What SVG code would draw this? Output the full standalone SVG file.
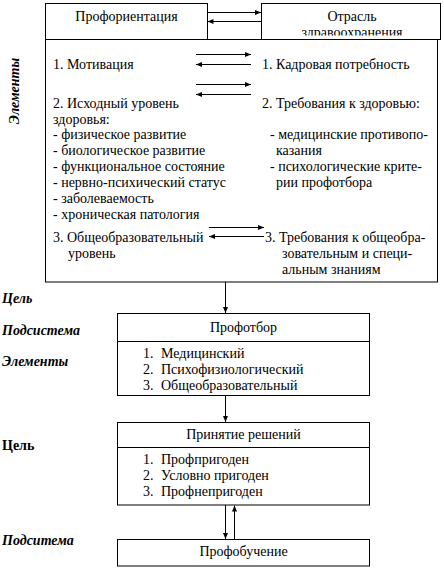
<svg xmlns="http://www.w3.org/2000/svg" width="444" height="571" viewBox="0 0 444 571">
<style>
  text { font-family: "Liberation Serif", "Times New Roman", serif; font-size: 14px; fill: #000; }
  .c { text-anchor: middle; }
  .lbl { font-weight: bold; font-style: italic; }
  .lblb { font-weight: bold; }
  .box { fill: #fff; stroke: #000; stroke-width: 1; }
  .ln { stroke: #000; stroke-width: 1; fill: none; }
  .ar { stroke: #000; stroke-width: 1; fill: none; marker-end: url(#ah); }
</style>
<defs>
  <marker id="ah" markerUnits="userSpaceOnUse" markerWidth="7" markerHeight="6" refX="6" refY="3" orient="auto">
    <path d="M0,0.5 L6,3 L0,5.5 z" fill="#000"/>
  </marker>
  <clipPath id="clipTop">
    <rect x="261" y="3" width="180" height="32.5"/>
  </clipPath>
</defs>
<rect width="444" height="571" fill="#fff"/>

<g id="labels">
  <text class="lbl" transform="translate(18.5,91) rotate(-90)" text-anchor="middle">Элементы</text>
  <text class="lbl" x="2" y="303">Цель</text>
  <text class="lbl" x="2" y="335">Подсистема</text>
  <text class="lbl" x="2" y="366">Элементы</text>
  <text class="lblb" x="2" y="450">Цель</text>
  <text class="lbl" x="2" y="545">Подситема</text>
</g>

<g id="node-system">
  <rect class="box" x="45.5" y="39.5" width="392" height="242.5"/>
  <text x="53" y="69">1. Мотивация</text>
  <text x="53" y="108">2. Исходный уровень</text>
  <text x="53" y="123.5">здоровья:</text>
  <text x="53" y="138.5">- физическое развитие</text>
  <text x="53" y="155">- биологическое развитие</text>
  <text x="53" y="171">- функциональное состояние</text>
  <text x="53" y="187">- нервно-психический статус</text>
  <text x="53" y="203">- заболеваемость</text>
  <text x="53" y="219">- хроническая патология</text>
  <text x="53" y="241.5">3. Общеобразовательный</text>
  <text x="68" y="257.5">уровень</text>
  <text x="262" y="69">1. Кадровая потребность</text>
  <text x="262" y="108">2. Требования к здоровью:</text>
  <text x="270" y="138.5">- медицинские противопо-</text>
  <text x="276" y="155">казания</text>
  <text x="270" y="171">- психологические крите-</text>
  <text x="276" y="187">рии профотбора</text>
  <text x="265" y="241.5">3. Требования к общеобра-</text>
  <text x="282" y="257.5">зовательным и специ-</text>
  <text x="282" y="274">альным знаниям</text>
</g>

<g id="node-proforientation">
  <rect class="box" x="45.5" y="3.5" width="162" height="36"/>
  <text class="c" x="126.5" y="21">Профориентация</text>
</g>

<g id="node-health">
  <rect class="box" x="261.5" y="3.5" width="179" height="36"/>
  <text class="c" x="352" y="21">Отрасль</text>
  <text class="c" x="352" y="37" clip-path="url(#clipTop)">здравоохранения</text>
</g>

<g id="node-proftbor">
  <rect class="box" x="117.5" y="313.5" width="252" height="82"/>
  <line class="ln" x1="117.5" y1="341.5" x2="369.5" y2="341.5"/>
  <text class="c" x="243.5" y="332">Профотбор</text>
  <text x="143" y="357.5">1.</text><text x="161" y="357.5">Медицинский</text>
  <text x="143" y="373.5">2.</text><text x="161" y="373.5">Психофизиологический</text>
  <text x="143" y="389.5">3.</text><text x="161" y="389.5">Общеобразовательный</text>
</g>

<g id="node-decision">
  <rect class="box" x="117.5" y="422.5" width="252" height="82.5"/>
  <line class="ln" x1="117.5" y1="447.5" x2="369.5" y2="447.5"/>
  <text class="c" x="243.5" y="439">Принятие решений</text>
  <text x="143" y="463.5">1.</text><text x="161" y="463.5">Профпригоден</text>
  <text x="143" y="480">2.</text><text x="161" y="480">Условно пригоден</text>
  <text x="143" y="496">3.</text><text x="161" y="496">Профнепригоден</text>
</g>

<g id="node-training">
  <rect class="box" x="117.5" y="539.5" width="252" height="26.5"/>
  <text class="c" x="243.5" y="556">Профобучение</text>
</g>

<g id="connectors">
  <line class="ar" x1="208" y1="12.5" x2="261" y2="12.5"/>
  <line class="ar" x1="261" y1="21.5" x2="207.5" y2="21.5"/>
  <line class="ar" x1="196" y1="54.5" x2="251" y2="54.5"/>
  <line class="ar" x1="251" y1="64.5" x2="196" y2="64.5"/>
  <line class="ar" x1="196" y1="84.5" x2="251" y2="84.5"/>
  <line class="ar" x1="251" y1="94.5" x2="196" y2="94.5"/>
  <line class="ar" x1="209" y1="227.5" x2="264" y2="227.5"/>
  <line class="ar" x1="264" y1="236.5" x2="209" y2="236.5"/>
  <line class="ar" x1="225.5" y1="282" x2="225.5" y2="313"/>
  <line class="ar" x1="225.5" y1="396" x2="225.5" y2="422"/>
  <line class="ar" x1="225.5" y1="505" x2="225.5" y2="539"/>
  <line class="ar" x1="234.5" y1="539" x2="234.5" y2="505.5"/>
</g>
</svg>
